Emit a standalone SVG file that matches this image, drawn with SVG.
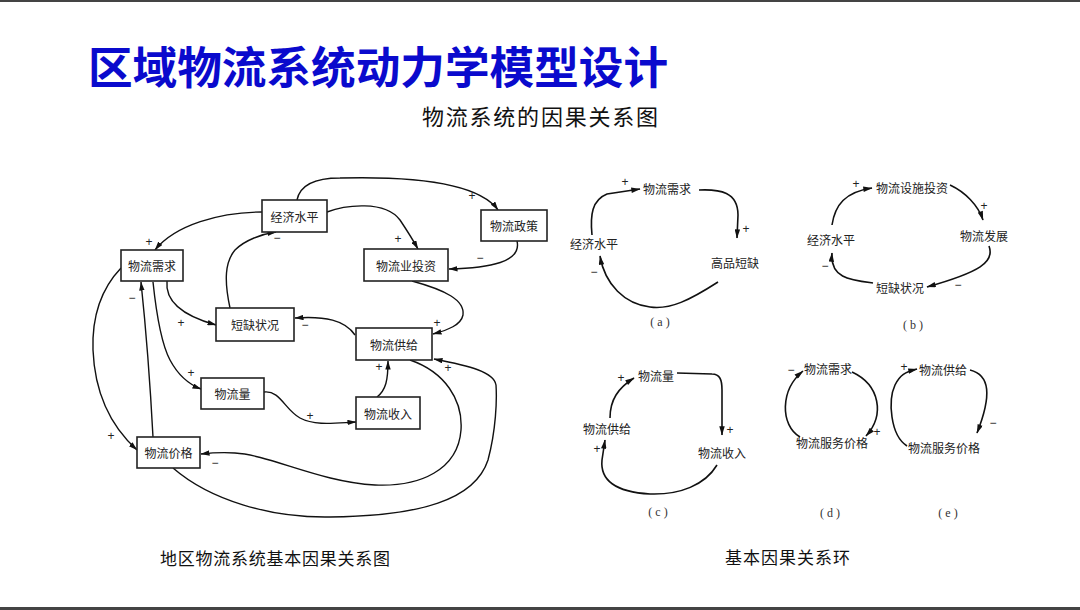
<svg xmlns="http://www.w3.org/2000/svg" width="1080" height="610" viewBox="0 0 1080 610">
<defs>
<marker id="ah" viewBox="0 0 10 6" refX="9.5" refY="3" markerWidth="9" markerHeight="5.5" markerUnits="userSpaceOnUse" orient="auto">
<path d="M0,0 L10,3 L0,6 z" fill="#111"/>
</marker>
<marker id="ah2" viewBox="0 0 10 6" refX="9.5" refY="3" markerWidth="11" markerHeight="5.5" markerUnits="userSpaceOnUse" orient="auto">
<path d="M0,0 L10,3 L0,6 z" fill="#111"/>
</marker>
</defs>
<style>
.box{fill:#fff;stroke:#222;stroke-width:1.6}
.nt{font-family:"Noto Sans CJK SC","Liberation Sans",sans-serif;font-size:12px;fill:#222;text-anchor:middle;dominant-baseline:central}
.c{fill:none;stroke:#111;stroke-width:1.4;marker-end:url(#ah)}
.c2{fill:none;stroke:#111;stroke-width:1.6;marker-end:url(#ah2)}
.s{font-family:"Liberation Sans",sans-serif;font-size:12px;fill:#222;text-anchor:middle;dominant-baseline:central}
.lb{font-family:"Liberation Serif","Noto Sans CJK SC",serif;font-size:12px;fill:#333;text-anchor:middle;dominant-baseline:central}
.cap{font-family:"Noto Sans CJK SC",sans-serif;font-size:17px;fill:#111}
</style>
<rect x="0" y="0" width="1080" height="2" fill="#444"/>
<rect x="0" y="607" width="1080" height="3" fill="#444"/>
<text x="88" y="84" font-family="Noto Sans CJK SC,sans-serif" font-weight="bold" font-size="44" fill="#0a0acd" textLength="580" lengthAdjust="spacingAndGlyphs">区域物流系统动力学模型设计</text>
<text x="422" y="125" font-family="Noto Sans CJK SC,sans-serif" font-size="22" fill="#111" textLength="236" lengthAdjust="spacing">物流系统的因果关系图</text>
<text class="cap" x="160" y="565" textLength="230" lengthAdjust="spacing">地区物流系统基本因果关系图</text>
<text class="cap" x="725" y="564" textLength="125" lengthAdjust="spacing">基本因果关系环</text>

<g id="left-connectors">
<path class="c" d="M262,212 C220,212 175,225 155,250"/>
<path class="c" d="M230,308 C224,280 225,262 235,250 C245,240 262,234 276,232"/>
<path class="c" d="M297,200 C300,185 315,178 340,178 C420,176 480,185 498,210"/>
<path class="c" d="M327,212 C345,205 385,200 400,220 C408,232 413,240 418,249"/>
<path class="c" d="M517,241 C522,262 490,268 449,269"/>
<path class="c" d="M412,281 C445,290 465,300 463,315 C461,325 448,330 433,334"/>
<path class="c" d="M355,335 C345,320 325,316 295,318"/>
<path class="c" d="M167,281 C165,300 180,315 216,325"/>
<path class="c" d="M153,282 C157,320 162,345 170,360 C178,375 188,384 201,389"/>
<path class="c" d="M153,437 C150,380 145,320 141,282"/>
<path class="c" d="M121,268 C100,290 92,320 93,350 C95,400 115,430 137,450"/>
<path class="c" d="M173,468 C210,500 270,518 330,517 C420,516 475,500 488,460 C496,430 497,400 496,385 C494,372 470,366 434,359"/>
<path class="c" d="M410,360 C445,372 463,400 461,430 C458,470 420,487 375,485 C320,482 270,455 235,453 C220,452 210,453 201,454"/>
<path class="c" d="M264,392 C280,390 285,410 300,418 C315,426 335,423 356,422"/>
<path class="c" d="M377,397 C386,390 388,380 388,361"/>
</g>
<g id="left-signs">
<text class="s" x="149" y="242">+</text>
<text class="s" x="277" y="238">−</text>
<text class="s" x="472" y="196">+</text>
<text class="s" x="398" y="239">+</text>
<text class="s" x="480" y="258">−</text>
<text class="s" x="437" y="323">+</text>
<text class="s" x="305" y="325">−</text>
<text class="s" x="181" y="323">+</text>
<text class="s" x="191" y="373">+</text>
<text class="s" x="132" y="298">−</text>
<text class="s" x="111" y="436">+</text>
<text class="s" x="448" y="368">+</text>
<text class="s" x="215" y="463">−</text>
<text class="s" x="310" y="416">+</text>
<text class="s" x="379" y="367">+</text>
</g>

<g id="n-jjsp"><rect class="box" x="262" y="200" width="65" height="32"/><text class="nt" x="294.5" y="216">经济水平</text></g>
<g id="n-wlxq"><rect class="box" x="121" y="250" width="62" height="31"/><text class="nt" x="152" y="265.5">物流需求</text></g>
<g id="n-dqzk"><rect class="box" x="216" y="308" width="78" height="33"/><text class="nt" x="255" y="324.5">短缺状况</text></g>
<g id="n-wlzc"><rect class="box" x="481" y="210" width="66" height="31"/><text class="nt" x="514" y="225.5">物流政策</text></g>
<g id="n-wlytz"><rect class="box" x="364" y="249" width="84" height="32"/><text class="nt" x="406" y="265">物流业投资</text></g>
<g id="n-wlgj"><rect class="box" x="356" y="328" width="76" height="32"/><text class="nt" x="394" y="344">物流供给</text></g>
<g id="n-wll"><rect class="box" x="201" y="378" width="63" height="31"/><text class="nt" x="232.5" y="393.5">物流量</text></g>
<g id="n-wlsr"><rect class="box" x="356" y="397" width="64" height="32"/><text class="nt" x="388" y="413">物流收入</text></g>
<g id="n-wljg"><rect class="box" x="137" y="437" width="63" height="31"/><text class="nt" x="168.5" y="452.5">物流价格</text></g>

<g id="loop-a">
<text class="nt" x="667" y="188">物流需求</text>
<text class="nt" x="594" y="243">经济水平</text>
<text class="nt" x="735" y="262">高品短缺</text>
<text class="s" x="625" y="182">+</text>
<text class="s" x="746" y="229">+</text>
<text class="s" x="594" y="272">−</text>
<text class="lb" x="660" y="322">( a )</text>
</g>
<g id="loop-b">
<text class="nt" x="912" y="187">物流设施投资</text>
<text class="nt" x="984" y="235">物流发展</text>
<text class="nt" x="831" y="239">经济水平</text>
<text class="nt" x="900" y="287">短缺状况</text>
<text class="s" x="856" y="184">+</text>
<text class="s" x="984" y="206">+</text>
<text class="s" x="825" y="266">−</text>
<text class="s" x="958" y="285">−</text>
<text class="lb" x="913" y="325">( b )</text>
</g>
<g id="loop-c">
<text class="nt" x="656" y="375">物流量</text>
<text class="nt" x="607" y="428">物流供给</text>
<text class="nt" x="722" y="452">物流收入</text>
<text class="s" x="621" y="378">+</text>
<text class="s" x="597" y="449">+</text>
<text class="s" x="730" y="430">+</text>
<text class="lb" x="658" y="512">( c )</text>
</g>
<g id="loop-d">
<text class="nt" x="828" y="368">物流需求</text>
<text class="nt" x="832" y="442">物流服务价格</text>
<text class="s" x="791" y="370">−</text>
<text class="s" x="877" y="432">+</text>
<text class="lb" x="830" y="513">( d )</text>
</g>
<g id="loop-e">
<text class="nt" x="943" y="369">物流供给</text>
<text class="nt" x="944" y="447">物流服务价格</text>
<text class="s" x="904" y="367">+</text>
<text class="s" x="993" y="423">−</text>
<text class="lb" x="948" y="513">( e )</text>
</g>
<g id="loop-connectors">
<path class="c2" d="M592,235 C590,215 592,200 607,194 L640,189"/>
<path class="c2" d="M699,190 C720,189 738,192 738,215 L737,238"/>
<path class="c2" d="M718,282 C690,300 670,310 650,307 C625,304 605,285 600,256"/>
<path class="c2" d="M832,225 C835,205 845,192 872,188"/>
<path class="c2" d="M950,185 C965,192 978,205 983,220"/>
<path class="c2" d="M989,246 C995,262 980,272 927,287"/>
<path class="c2" d="M873,283 C850,280 830,278 832,253"/>
<path class="c2" d="M610,418 C610,400 618,388 634,378"/>
<path class="c2" d="M677,373 L712,374 C720,374 722,380 722,390 L722,435"/>
<path class="c2" d="M717,465 C705,485 680,495 650,494 C615,492 600,480 602,460 L605,440"/>
<path class="c2" d="M800,437 C780,425 780,390 803,371"/>
<path class="c2" d="M852,372 C880,385 885,415 866,436"/>
<path class="c2" d="M907,446 C890,435 888,400 895,385 C900,375 905,372 917,369"/>
<path class="c2" d="M970,370 C990,375 992,395 977,433"/>
</g>
</svg>
